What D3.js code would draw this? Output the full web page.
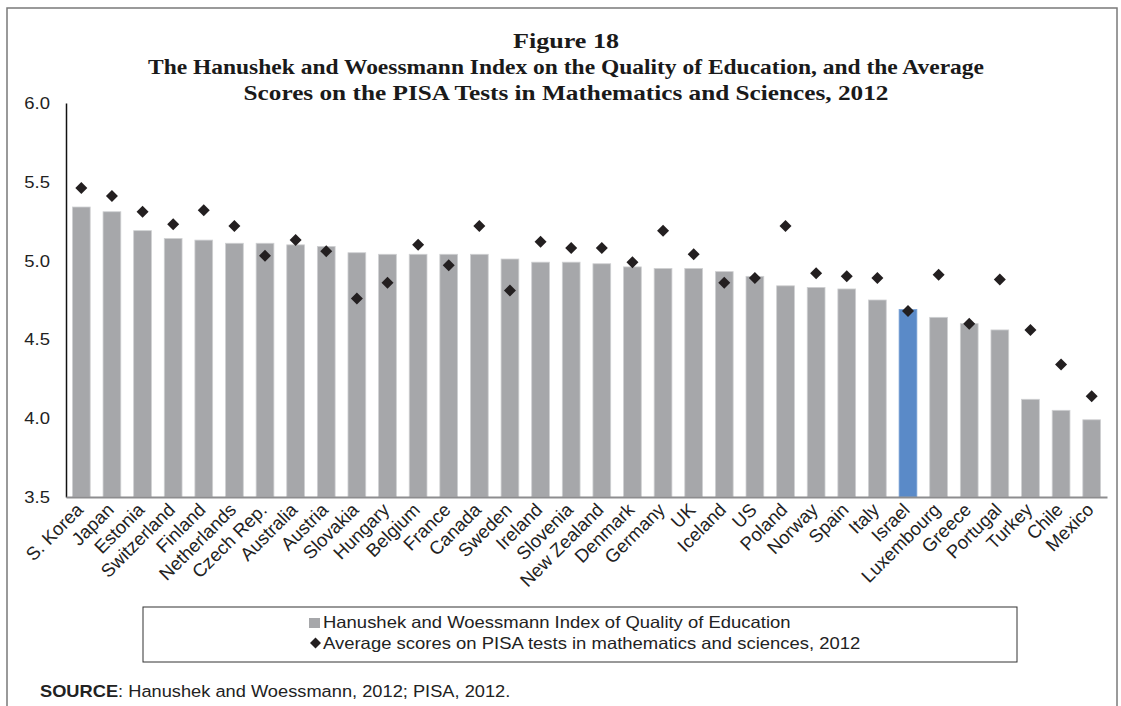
<!DOCTYPE html>
<html>
<head>
<meta charset="utf-8">
<script src="https://cdn.jsdelivr.net/npm/d3@7"></script>
<style>
  html, body { margin: 0; padding: 0; background: #fff; }
  svg { display: block; }
  .sans { font-family: "Liberation Sans", Arial, sans-serif; }
  .serif { font-family: "Liberation Serif", "Times New Roman", serif; }
</style>
</head>
<body>
<svg id="chart" width="1121" height="706"></svg>
<script>
// Countries, ranked by the Hanushek–Woessmann index
const countries = ["S. Korea", "Japan", "Estonia", "Switzerland", "Finland", "Netherlands",
  "Czech Rep.", "Australia", "Austria", "Slovakia", "Hungary", "Belgium", "France", "Canada",
  "Sweden", "Ireland", "Slovenia", "New Zealand", "Denmark", "Germany", "UK", "Iceland", "US",
  "Poland", "Norway", "Spain", "Italy", "Israel", "Luxembourg", "Greece", "Portugal", "Turkey",
  "Chile", "Mexico"];

// Hanushek and Woessmann index of quality of education
const hwIndex = [5.34, 5.31, 5.19, 5.14, 5.13, 5.11, 5.11, 5.10, 5.09, 5.05, 5.04, 5.04, 5.04,
  5.04, 5.01, 4.99, 4.99, 4.98, 4.96, 4.95, 4.95, 4.93, 4.90, 4.84, 4.83, 4.82, 4.75, 4.69,
  4.64, 4.60, 4.56, 4.12, 4.05, 3.99];

// Average PISA 2012 scores in mathematics and sciences (hundreds of points)
const pisaScores = [5.46, 5.41, 5.31, 5.23, 5.32, 5.22, 5.03, 5.13, 5.06, 4.76, 4.86, 5.10, 4.97,
  5.22, 4.81, 5.12, 5.08, 5.08, 4.99, 5.19, 5.04, 4.86, 4.89, 5.22, 4.92, 4.90, 4.89, 4.68,
  4.91, 4.60, 4.88, 4.56, 4.34, 4.14];

const yTicks = [3.5, 4.0, 4.5, 5.0, 5.5, 6.0];
const highlighted = "Israel";

const titleLines = ["Figure 18",
  "The Hanushek and Woessmann Index on the Quality of Education, and the Average",
  "Scores on the PISA Tests in Mathematics and Sciences, 2012"];
const titleWidths = [106, 836, 645];
const legendLabels = ["Hanushek and Woessmann Index of Quality of Education",
  "Average scores on PISA tests in mathematics and sciences, 2012"];

const SX = 1.12; // horizontal stretch applied to sans text
const svg = d3.select("#chart");

// frame around the figure
svg.append("rect").attr("x", 7).attr("y", 8).attr("width", 1110).attr("height", 740)
  .attr("fill", "none").attr("stroke", "#7a7a7a").attr("stroke-width", 1.5);

const plot = { left: 66, right: 1107, top: 103, bottom: 497 };

const x = d3.scaleBand().domain(countries).range([plot.left, plot.right]).paddingInner(0.42).paddingOuter(0.21);
const y = d3.scaleLinear().domain([3.5, 6.0]).range([plot.bottom, plot.top]);

// title
const title = svg.append("g").attr("class", "serif");
titleLines.forEach((t, i) => {
  title.append("text")
    .attr("x", 566).attr("y", 48 + i * 26)
    .attr("text-anchor", "middle").attr("font-weight", "bold").attr("font-size", 22)
    .attr("textLength", titleWidths[i]).attr("lengthAdjust", "spacingAndGlyphs")
    .attr("fill", "#1a1a1a").text(t);
});

// bars
svg.append("g").selectAll("rect").data(countries).join("rect")
  .attr("x", d => x(d)).attr("width", x.bandwidth())
  .attr("y", (d, i) => y(hwIndex[i])).attr("height", (d, i) => y(3.5) - y(hwIndex[i]))
  .attr("fill", d => d === highlighted ? "#5a8ac8" : "#a6a7aa")
  .attr("stroke", d => d === highlighted ? "#7aa2d6" : "#cfd0d2").attr("stroke-width", 0.8);

// diamonds
const diamond = d3.symbol().type(d3.symbolSquare).size(72);
svg.append("g").selectAll("path").data(countries).join("path")
  .attr("d", diamond)
  .attr("transform", (d, i) => `translate(${x(d) + x.bandwidth() / 2},${y(pisaScores[i])}) rotate(45)`)
  .attr("fill", "#231f20");

// y axis
const yAxis = svg.append("g").attr("transform", `translate(${plot.left},0)`)
  .call(d3.axisLeft(y).tickValues(yTicks).tickFormat(() => "").tickSize(0));
yAxis.select(".domain").attr("stroke", "#111").attr("stroke-width", 1.5);
svg.append("g").attr("class", "sans").selectAll("text").data(yTicks).join("text")
  .attr("transform", d => `translate(50,${y(d) + 6}) scale(${SX},1)`)
  .attr("text-anchor", "end").attr("font-size", 16.5).attr("fill", "#222")
  .text(d3.format(".1f"));

// x axis
const xAxis = svg.append("g").attr("transform", `translate(0,${plot.bottom})`)
  .call(d3.axisBottom(x).tickSize(0).tickFormat(() => ""));
xAxis.select(".domain").attr("stroke", "#8d8d8f").attr("stroke-width", 2);
svg.append("g").attr("class", "sans").selectAll("text").data(countries).join("text")
  .attr("transform", d => `translate(${x(d) + x.bandwidth() / 2 + 3},${plot.bottom + 14}) rotate(-45)`)
  .attr("text-anchor", "end").attr("font-size", 18.5).attr("fill", "#222")
  .text(d => d);

// legend
const lg = svg.append("g").attr("class", "sans");
lg.append("rect").attr("x", 143).attr("y", 607).attr("width", 874).attr("height", 55)
  .attr("fill", "#fff").attr("stroke", "#333").attr("stroke-width", 1);
lg.append("rect").attr("x", 309).attr("y", 618).attr("width", 11).attr("height", 10).attr("fill", "#a6a7aa");
lg.append("path").attr("d", d3.symbol().type(d3.symbolSquare).size(60))
  .attr("transform", "translate(315.5,643) rotate(45)").attr("fill", "#231f20");
legendLabels.forEach((t, i) => {
  lg.append("text").attr("transform", `translate(323,${628 + i * 20.5}) scale(${SX},1)`)
    .attr("font-size", 16.5).attr("fill", "#222").text(t);
});

// source line
const src = svg.append("text").attr("class", "sans")
  .attr("transform", `translate(40,697) scale(${SX},1)`).attr("font-size", 16.3).attr("fill", "#222");
src.append("tspan").attr("font-weight", "bold").text("SOURCE");
src.append("tspan").text(": Hanushek and Woessmann, 2012; PISA, 2012.");
</script>
</body>
</html>
